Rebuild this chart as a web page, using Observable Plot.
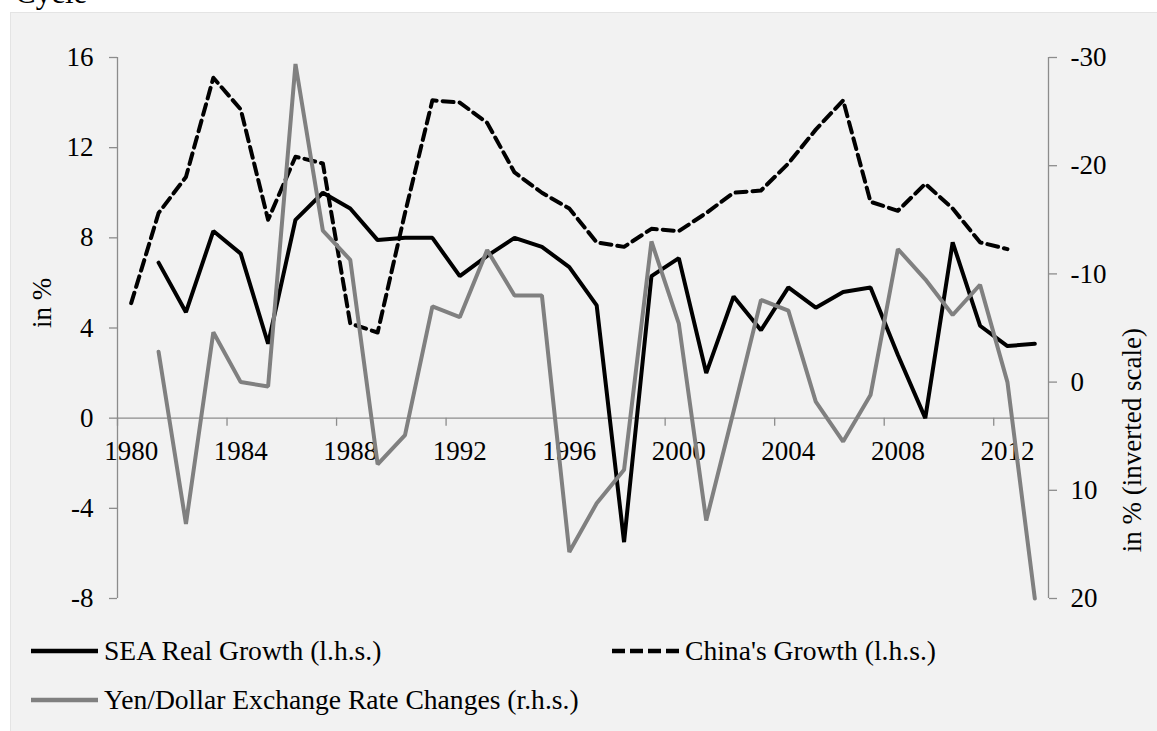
<!DOCTYPE html>
<html>
<head>
<meta charset="utf-8">
<script src="https://cdn.jsdelivr.net/npm/d3@7"></script>
<script src="https://cdn.jsdelivr.net/npm/@observablehq/plot@0.6"></script>
<style>
  html, body { margin: 0; padding: 0; background: #ffffff; }
  body { width: 1157px; height: 731px; position: relative; overflow: hidden; font-family: "Liberation Serif", "Times New Roman", serif; }
  #title { position: absolute; left: 15px; top: -25px; font-size: 31px; line-height: 36px; color: #000; white-space: nowrap; }
  #panel { position: absolute; left: 10px; top: 12px; right: 0; bottom: 0; background: #f2f2f2; border-top: 1px solid #e4e4e4; border-left: 1px solid #e4e4e4; }
  #chart { position: absolute; left: 0; top: 0; }
  .leg { position: absolute; display: flex; align-items: center; font-size: 27.6px; color: #000; white-space: nowrap; }
  .leg svg { margin-right: 6px; }
</style>
</head>
<body>
<div id="title">Cycle</div>
<div id="panel"></div>
<div id="chart"></div>
<div id="legend"></div>
<script>
// ---- data ----
const seaYears   = d3.range(1981, 2014);
const seaGrowth  = [6.9, 4.7, 8.3, 7.3, 3.3, 8.8, 10.0, 9.3, 7.9, 8.0, 8.0, 6.3, 7.2, 8.0, 7.6, 6.7, 5.0, -5.5, 6.3, 7.1,
                    2.0, 5.4, 3.9, 5.8, 4.9, 5.6, 5.8, 2.8, 0.0, 7.8, 4.1, 3.2, 3.3];
const chinaYears  = d3.range(1980, 2013);
const chinaGrowth = [5.1, 9.1, 10.7, 15.1, 13.7, 8.8, 11.6, 11.3, 4.2, 3.8, 9.1, 14.1, 14.0, 13.1, 10.9, 10.0, 9.3, 7.8,
                     7.6, 8.4, 8.3, 9.1, 10.0, 10.1, 11.3, 12.8, 14.1, 9.6, 9.2, 10.4, 9.3, 7.8, 7.5];
const yenYears  = d3.range(1981, 2014);
const yenChange = [-2.8, 13.1, -4.6, 0.0, 0.4, -29.4, -14.0, -11.3, 7.6, 4.9, -7.0, -6.0, -12.2, -8.0, -8.0, 15.7, 11.2,
                   8.1, -13.0, -5.4, 12.8, 2.7, -7.6, -6.6, 1.8, 5.5, 1.2, -12.3, -9.5, -6.2, -9.0, 0.0, 20.0];
const xLabelYears = [1980, 1984, 1988, 1992, 1996, 2000, 2004, 2008, 2012];
const leftTicks  = [-8, -4, 0, 4, 8, 12, 16];
const rightTicks = [-30, -20, -10, 0, 10, 20];
const seriesNames = ["SEA Real Growth (l.h.s.)", "China's Growth (l.h.s.)", "Yen/Dollar Exchange Rate Changes (r.h.s.)"];

// right (inverted) axis: -30 at top (=16 left), 20 at bottom (=-8 left)
const toLeft   = v => 16 - (v + 30) * 24 / 50;
const fromLeft = y => (16 - y) * 50 / 24 - 30;

const sea   = seaYears.map((year, i) => ({year, value: seaGrowth[i]}));
const china = chinaYears.map((year, i) => ({year, value: chinaGrowth[i]}));
const yen   = yenYears.map((year, i) => ({year, value: toLeft(yenChange[i])}));
const tickBounds = xLabelYears.map(y => y - 0.5);

const axisColor = "#8c8c8c";
const fs = 27;

const plot = Plot.plot({
  width: 1157,
  height: 640,
  marginLeft: 117,
  marginRight: 109,
  marginTop: 57,
  marginBottom: 42,
  style: {background: "transparent", fontFamily: "Liberation Serif, Times New Roman, serif", fontSize: fs + "px", color: "#000", overflow: "visible"},
  x: {domain: [1979.5, 2013.5], axis: null},
  y: {domain: [-8, 16], axis: null},
  marks: [
    // vertical axis lines
    Plot.ruleX([1979.5, 2013.5], {y1: -8, y2: 16, stroke: axisColor, strokeWidth: 1.3}),
    // left axis
    Plot.axisY({anchor: "left", ticks: leftTicks, tickFormat: d => String(d), tickSize: 8, tickPadding: 16, stroke: axisColor, strokeWidth: 1.3, fill: "#000", fontSize: fs, label: null}),
    // right axis (inverted scale)
    Plot.axisY({anchor: "right", ticks: rightTicks.map(toLeft), tickFormat: d => String(Math.round(fromLeft(d))), tickSize: 8, tickPadding: 14, stroke: axisColor, strokeWidth: 1.3, fill: "#000", fontSize: fs, label: null}),
    // horizontal axis at zero
    Plot.ruleY([0], {x1: 1979.5, x2: 2013.5, stroke: axisColor, strokeWidth: 1.3}),
    Plot.ruleX(tickBounds, {y1: 0, y2: -0.36, stroke: axisColor, strokeWidth: 1.3}),
    Plot.text(xLabelYears, {x: d => d, y: 0, dy: 33, text: d => String(d), fill: "#000", fontSize: fs}),
    // axis titles
    Plot.text(["in %"], {frameAnchor: "left", dx: -75, rotate: -90, fill: "#000", fontSize: fs}),
    Plot.text(["in % (inverted scale)"], {frameAnchor: "right", dx: 84, rotate: -90, fill: "#000", fontSize: fs}),
    // series
    Plot.line(sea, {x: "year", y: "value", stroke: "#000000", strokeWidth: 4, strokeLinejoin: "miter"}),
    Plot.line(china, {x: "year", y: "value", stroke: "#000000", strokeWidth: 4, strokeDasharray: "11,6"}),
    Plot.line(yen, {x: "year", y: "value", stroke: "#808080", strokeWidth: 4, strokeLinejoin: "miter"})
  ]
});
document.getElementById("chart").appendChild(plot);

// legend
const legendSpecs = [
  {name: seriesNames[0], stroke: "#000000", dash: null, left: 31, top: 651},
  {name: seriesNames[1], stroke: "#000000", dash: "13,5", left: 612, top: 651},
  {name: seriesNames[2], stroke: "#808080", dash: null, left: 31, top: 700}
];
const legend = d3.select("#legend");
for (const s of legendSpecs) {
  const item = legend.append("div").attr("class", "leg")
    .style("left", s.left + "px").style("top", (s.top - 16) + "px").style("height", "32px");
  const sw = item.append("svg").attr("width", 67).attr("height", 10);
  sw.append("line").attr("x1", 0).attr("x2", 67).attr("y1", 5).attr("y2", 5)
    .attr("stroke", s.stroke).attr("stroke-width", 4.5)
    .attr("stroke-dasharray", s.dash);
  item.append("span").text(s.name);
}
</script>
</body>
</html>
